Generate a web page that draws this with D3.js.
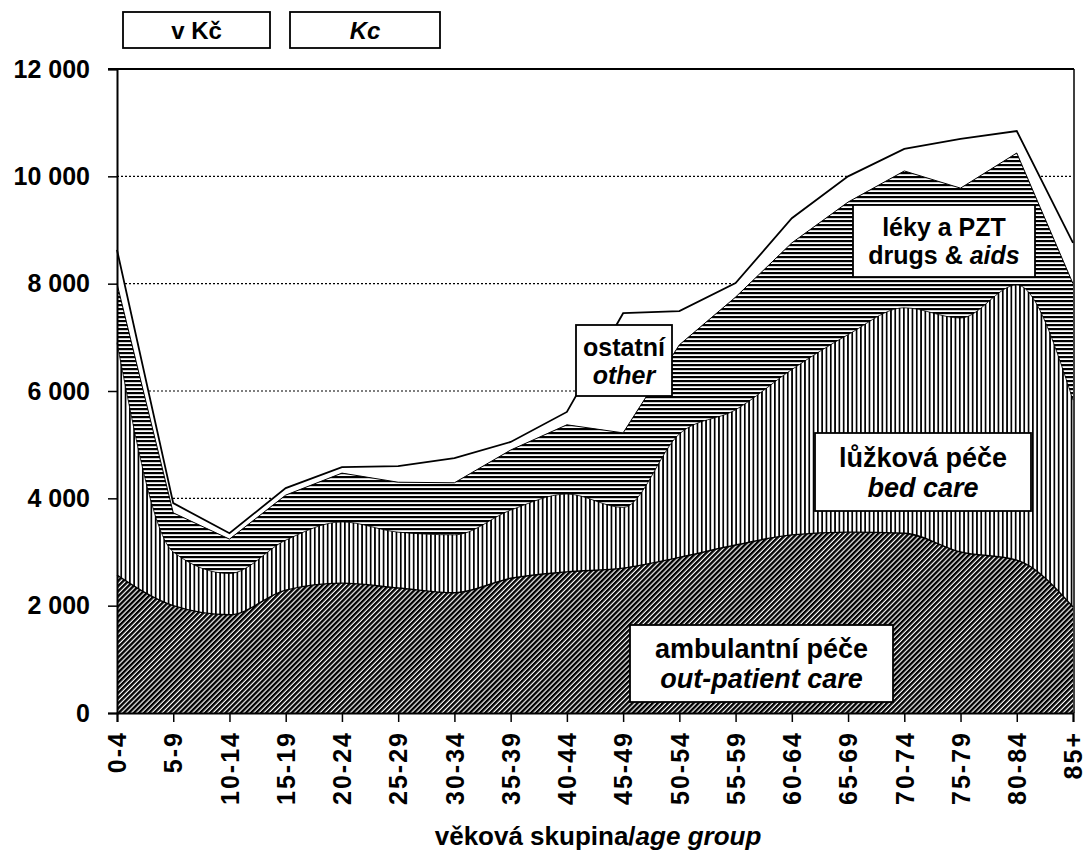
<!DOCTYPE html>
<html>
<head>
<meta charset="utf-8">
<script src="https://cdn.jsdelivr.net/npm/d3@7"></script>
<style>
  body { margin: 0; background: #fff; }
  svg { display: block; }
  text { font-family: "Liberation Sans", Arial, sans-serif; font-weight: bold; fill: #000; }
  .grid line { stroke: #000; stroke-width: 1.2; stroke-dasharray: 2,2; }
</style>
</head>
<body>
<svg id="chart" width="1083" height="851"></svg>
<script>
// vekove skupiny
var ageGroups = ["0-4","5-9","10-14","15-19","20-24","25-29","30-34","35-39","40-44",
                 "45-49","50-54","55-59","60-64","65-69","70-74","75-79","80-84","85+"];

// naklady na osobu v Kc
var ambulantni = [2570,2000,1830,2290,2420,2330,2240,2510,2630,2700,2900,3130,3320,3370,3350,3000,2850,1975];
var luzkova    = [4330,1000, 770, 930,1140,1040,1080,1270,1450,1130,2300,2520,3080,3680,4200,4360,5125,3855];
var leky       = [1100, 730, 640, 840, 910, 930, 970,1120,1290,1390,1660,2100,2360,2470,2550,2420,2460,2170];
var ostatni    = [ 630, 180, 110, 130, 110, 300, 460, 150, 240,2230, 630, 260, 460, 480, 410, 920, 410, 760];

var yTicks = [0,2000,4000,6000,8000,10000,12000];

var svg = d3.select("#chart");
var pLeft = 117, pRight = 1073, pTop = 69, pBottom = 713;

var x = d3.scalePoint().domain(ageGroups).range([pLeft, pRight]).padding(0);
var y = d3.scaleLinear().domain([0, 12000]).range([pBottom, pTop]);

var loc = d3.formatLocale({decimal: ",", thousands: " ", grouping: [3], currency: ["", ""]});
var fmt = loc.format(",");

// patterns
var defs = svg.append("defs");
var pH = defs.append("pattern").attr("id", "hatchH").attr("patternUnits", "userSpaceOnUse")
    .attr("width", 8).attr("height", 4);
pH.append("rect").attr("width", 8).attr("height", 4).attr("fill", "#fff");
pH.append("rect").attr("width", 8).attr("height", 2.2).attr("fill", "#000");

var pV = defs.append("pattern").attr("id", "hatchV").attr("patternUnits", "userSpaceOnUse")
    .attr("width", 4.3).attr("height", 8);
pV.append("rect").attr("width", 4.3).attr("height", 8).attr("fill", "#fff");
pV.append("rect").attr("width", 1.7).attr("height", 8).attr("fill", "#000");

var pD = defs.append("pattern").attr("id", "hatchD").attr("patternUnits", "userSpaceOnUse")
    .attr("width", 3.6).attr("height", 8).attr("patternTransform", "rotate(45)");
pD.append("rect").attr("width", 3.6).attr("height", 8).attr("fill", "#fff");
pD.append("rect").attr("width", 2.4).attr("height", 8).attr("fill", "#000");

// gridlines
svg.append("g").attr("class", "grid")
  .selectAll("line").data(yTicks.filter(function(v){ return v > 0 && v < 12000; }))
  .enter().append("line")
    .attr("x1", pLeft).attr("x2", pRight)
    .attr("y1", function(d){ return y(d); }).attr("y2", function(d){ return y(d); });

// stacked
var rows = ageGroups.map(function(g, i){
  return {age: g, amb: ambulantni[i], bed: luzkova[i], drugs: leky[i], other: ostatni[i]};
});
var stack = d3.stack().keys(["amb","bed","drugs","other"])(rows);

var layers = [
  {s: stack[3], fill: "#fff", curve: d3.curveLinear, sw: 1.8},
  {s: stack[2], fill: "url(#hatchH)", curve: d3.curveLinear, sw: 1},
  {s: stack[1], fill: "url(#hatchV)", curve: d3.curveMonotoneX, sw: 0.8},
  {s: stack[0], fill: "url(#hatchD)", curve: d3.curveMonotoneX, sw: 1.4}
];

layers.forEach(function(l){
  var area = d3.area()
    .x(function(d){ return x(d.data.age); })
    .y0(pBottom)
    .y1(function(d){ return y(d[1]); })
    .curve(l.curve);
  var line = d3.line()
    .x(function(d){ return x(d.data.age); })
    .y(function(d){ return y(d[1]); })
    .curve(l.curve);
  svg.append("path").datum(l.s).attr("d", area).attr("fill", l.fill);
  svg.append("path").datum(l.s).attr("d", line).attr("fill", "none")
    .attr("stroke", "#000").attr("stroke-width", l.sw);
});

// frame
svg.append("line").attr("x1", pLeft - 9).attr("x2", pRight + 1).attr("y1", pTop).attr("y2", pTop)
  .attr("stroke", "#000").attr("stroke-width", 1.8);
svg.append("line").attr("x1", pRight + 1).attr("x2", pRight + 1).attr("y1", pTop).attr("y2", pBottom)
  .attr("stroke", "#000").attr("stroke-width", 1.5);

// y axis
var yAxis = d3.axisLeft(y).tickValues(yTicks).tickSize(9).tickPadding(18).tickFormat(fmt);
var gy = svg.append("g").attr("transform", "translate(" + pLeft + ",0)").call(yAxis);
gy.select(".domain").attr("stroke", "#000").attr("stroke-width", 2);
gy.selectAll(".tick line").attr("stroke", "#000").attr("stroke-width", 1.5);
gy.selectAll(".tick text").style("font-family", "'Liberation Sans', Arial, sans-serif")
  .style("font-weight", "bold").style("font-size", "25px").attr("fill", "#000");

// x axis
var xAxis = d3.axisBottom(x).tickSize(9).tickPadding(0);
var gx = svg.append("g").attr("transform", "translate(0," + pBottom + ")").call(xAxis);
gx.select(".domain").attr("stroke", "#000").attr("stroke-width", 2);
gx.selectAll(".tick line").attr("stroke", "#000").attr("stroke-width", 1.5);
gx.selectAll(".tick text")
  .style("font-family", "'Liberation Sans', Arial, sans-serif")
  .style("font-weight", "bold").style("font-size", "25px").style("letter-spacing", "2px")
  .attr("fill", "#000")
  .attr("text-anchor", "end").attr("dy", "0.35em")
  .attr("transform", "translate(0,18) rotate(-90)").attr("x", 0).attr("y", 0);

// axis title
var t = svg.append("text").attr("x", 598).attr("y", 845).attr("text-anchor", "middle")
  .style("font-size", "26px");
t.append("tspan").text("věková skupina/");
t.append("tspan").style("font-style", "italic").text("age group");

// label boxes
function box(x0, y0, w, h, lines, size) {
  svg.append("rect").attr("x", x0).attr("y", y0).attr("width", w).attr("height", h)
    .attr("fill", "#fff").attr("stroke", "#000").attr("stroke-width", 1.8);
  var n = lines.length;
  lines.forEach(function(ln, i){
    var tx = svg.append("text").attr("x", x0 + w / 2)
      .attr("y", y0 + h / 2 + (i - (n - 1) / 2) * size * 1.12)
      .attr("dy", "0.36em").attr("text-anchor", "middle").style("font-size", size + "px");
    ln.forEach(function(part){
      tx.append("tspan").style("font-style", part[1] ? "italic" : "normal").text(part[0]);
    });
  });
}

box(123, 12, 147, 36, [[["v Kč", 0]]], 24);
box(290, 12, 150, 36, [[["Kc", 1]]], 24);
box(576, 325, 96, 71, [[["ostatní", 0]], [["other", 1]]], 25);
box(853, 205, 182, 72, [[["léky a PZT", 0]], [["drugs & ", 0], ["aids", 1]]], 25);
box(815, 433, 216, 78, [[["lůžková péče", 0]], [["bed care", 1]]], 27);
box(630, 625, 263, 77, [[["ambulantní péče", 0]], [["out-patient care", 1]]], 27);
</script>
</body>
</html>
